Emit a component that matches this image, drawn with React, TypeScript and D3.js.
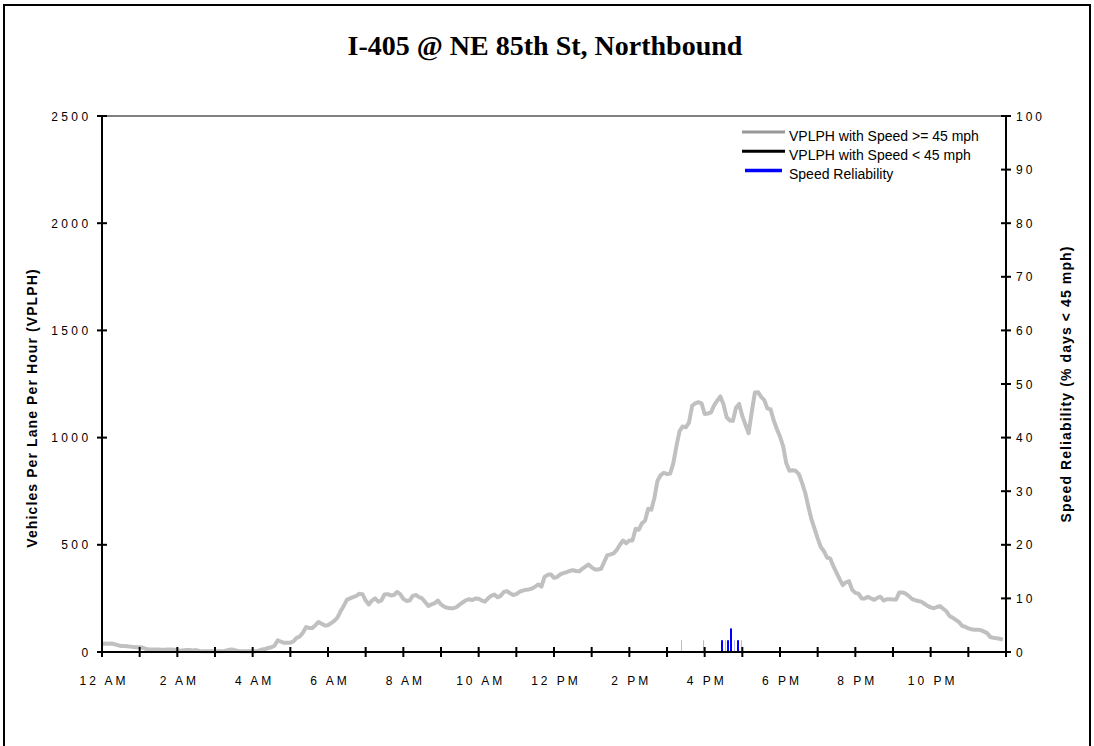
import { useEffect, useRef } from 'react';
import * as d3 from 'd3';

// 5-minute VPLPH readings, 12 AM .. 11:55 PM (12 values per hour)
const vplphFast = [
  37, 40, 38, 40, 36, 32, 28, 28, 27, 25, 23, 22,
  22, 20, 14, 12, 12, 12, 12, 11, 11, 12, 12, 11,
  8, 6, 8, 9, 9, 7, 9, 5, 3, 3, 3, 4,
  3, 3, 4, 5, 8, 12, 10, 6, 4, 4, 4, 4,
  4, 4, 6, 12, 14, 19, 22, 30, 55, 48, 43, 43,
  43, 50, 66, 72, 90, 116, 112, 112, 125, 140, 132, 124,
  125, 135, 145, 160, 190, 215, 243, 250, 256, 262, 272, 270,
  240, 222, 240, 250, 235, 240, 268, 270, 264, 266, 280, 270,
  248, 238, 240, 262, 266, 256, 250, 232, 215, 222, 228, 240,
  222, 212, 206, 204, 204, 210, 222, 232, 242, 246, 242, 250,
  248, 240, 235, 250, 262, 268, 255, 262, 280, 284, 274, 266,
  270, 280, 286, 290, 292, 296, 305, 315, 305, 350, 360, 362,
  346, 350, 362, 368, 372, 378, 382, 378, 376, 388, 398, 408,
  395, 385, 385, 388, 420, 452, 455, 460, 476, 500, 520, 508,
  520, 520, 575, 570, 600, 612, 668, 664, 720, 800, 825, 836,
  830, 832, 880, 960, 1030, 1052, 1048, 1070, 1148, 1160, 1165, 1160,
  1110, 1112, 1118, 1150, 1172, 1192, 1155, 1095, 1080, 1078, 1140, 1157,
  1100, 1060, 1020, 1120, 1210, 1212, 1190, 1175, 1135, 1132, 1080, 1040,
  1005, 960, 880, 845, 848, 845, 830, 790, 745, 680, 620, 575,
  530, 490, 470, 440, 436, 400, 370, 340, 312, 325, 330, 290,
  276, 272, 250, 250, 258, 250, 243, 252, 258, 240, 246, 246,
  245, 245, 278, 278, 272, 262, 248, 242, 238, 235, 225, 215,
  208, 204, 210, 214, 202, 190, 168, 160, 150, 140, 122, 118,
  110, 106, 104, 104, 102, 95, 88, 70, 66, 64, 62, 58,
];

// speed reliability (% of days < 45 mph) per 5-minute bin
const reliabilityBins = [184, 191, 197, 198, 199, 200, 201, 202, 203];
const reliabilityValues = [2.2, 2.2, 2.2, 2.2, 2.2, 4.4, 2.2, 2.2, 2.2];
// bins that the original rendered as faint hairlines
const faintBins = [184, 191, 198, 201, 203];

const leftTicks = [0, 500, 1000, 1500, 2000, 2500];
const rightTicks = [0, 10, 20, 30, 40, 50, 60, 70, 80, 90, 100];
const timeLabels = ['12 AM', '2 AM', '4 AM', '6 AM', '8 AM', '10 AM', '12 PM', '2 PM', '4 PM', '6 PM', '8 PM', '10 PM'];
const legendItems = ['VPLPH with Speed >= 45 mph', 'VPLPH with Speed < 45 mph', 'Speed Reliability'];
const legendColors = ['#999999', '#000000', '#0000ff'];

const App = () => {
  const svgRef = useRef<SVGSVGElement>(null!);
  const width = 1094;
  const height = 746;
  const left = 102;
  const right = 1006;
  const top = 116;
  const bottom = 652;

  useEffect(() => {
    const svg = d3.select(svgRef.current);
    svg.selectAll('*').remove();
    svg.attr('width', width).attr('height', height);

    const x = d3.scaleLinear().domain([0, 288]).range([left, right]);
    const y = d3.scaleLinear().domain([0, 2500]).range([bottom, top]);
    const y2 = d3.scaleLinear().domain([0, 100]).range([bottom, top]);

    svg.append('rect').attr('width', width).attr('height', height).attr('fill', '#fff');
    svg
      .append('rect')
      .attr('x', 4)
      .attr('y', 5)
      .attr('width', 1086)
      .attr('height', 800)
      .attr('fill', 'none')
      .attr('stroke', '#000')
      .attr('stroke-width', 2);

    svg
      .append('text')
      .attr('x', 545)
      .attr('y', 55)
      .attr('text-anchor', 'middle')
      .attr('font-family', '"Liberation Serif", "Times New Roman", serif')
      .attr('font-weight', 'bold')
      .attr('font-size', 28)
      .text('I-405 @ NE 85th St, Northbound');

    // plot top border
    svg
      .append('line')
      .attr('x1', left)
      .attr('x2', right)
      .attr('y1', top)
      .attr('y2', top)
      .attr('stroke', '#808080')
      .attr('stroke-width', 2);

    // reliability bars
    svg
      .append('g')
      .selectAll('rect')
      .data(reliabilityBins)
      .join('rect')
      .attr('x', (d) => Math.round(x(d + 0.5)) - (faintBins.includes(d) ? 0 : 1))
      .attr('width', (d) => (faintBins.includes(d) ? 1 : 2))
      .attr('y', (_, i) => y2(reliabilityValues[i]))
      .attr('height', (_, i) => bottom - y2(reliabilityValues[i]))
      .attr('fill', (d) => (faintBins.includes(d) ? '#b4b4ff' : '#0000ff'));

    const line = d3
      .line<number>()
      .x((_, i) => x(i))
      .y((d) => y(d));
    svg
      .append('path')
      .datum(vplphFast)
      .attr('d', line)
      .attr('fill', 'none')
      .attr('stroke', '#c0c0c0')
      .attr('stroke-width', 4)
      .attr('stroke-linejoin', 'round');

    const axisFont = '"Liberation Sans", Arial, sans-serif';

    // left axis
    const gl = svg.append('g');
    gl.append('line').attr('x1', left).attr('x2', left).attr('y1', top).attr('y2', bottom).attr('stroke', '#000').attr('stroke-width', 2);
    gl.selectAll('line.t')
      .data(leftTicks)
      .join('line')
      .attr('class', 't')
      .attr('x1', left - 5)
      .attr('x2', left + 5)
      .attr('y1', (d) => y(d))
      .attr('y2', (d) => y(d))
      .attr('stroke', '#000')
      .attr('stroke-width', 2);
    gl.selectAll('text')
      .data(leftTicks)
      .join('text')
      .attr('x', 91.5)
      .attr('y', (d) => y(d) + 4.5)
      .attr('text-anchor', 'end')
      .attr('font-family', axisFont)
      .attr('font-size', 12)
      .attr('letter-spacing', 3.4)
      .text((d) => d);

    // right axis
    const gr = svg.append('g');
    gr.append('line').attr('x1', right).attr('x2', right).attr('y1', top).attr('y2', bottom).attr('stroke', '#000').attr('stroke-width', 2);
    gr.selectAll('line.t')
      .data(rightTicks)
      .join('line')
      .attr('class', 't')
      .attr('x1', right - 5)
      .attr('x2', right + 5)
      .attr('y1', (d) => y2(d))
      .attr('y2', (d) => y2(d))
      .attr('stroke', '#000')
      .attr('stroke-width', 2);
    gr.selectAll('text')
      .data(rightTicks)
      .join('text')
      .attr('x', 1016)
      .attr('y', (d) => y2(d) + 4.5)
      .attr('font-family', axisFont)
      .attr('font-size', 12)
      .attr('letter-spacing', 3)
      .text((d) => d);

    // bottom axis: hourly ticks, labels every two hours
    const gb = svg.append('g');
    gb.append('line').attr('x1', left).attr('x2', right).attr('y1', bottom).attr('y2', bottom).attr('stroke', '#000').attr('stroke-width', 2);
    gb.selectAll('line.t')
      .data(d3.range(0, 25))
      .join('line')
      .attr('class', 't')
      .attr('x1', (d) => x(d * 12))
      .attr('x2', (d) => x(d * 12))
      .attr('y1', bottom - 5)
      .attr('y2', bottom + 5)
      .attr('stroke', '#000')
      .attr('stroke-width', 2);
    gb.selectAll('text')
      .data(timeLabels)
      .join('text')
      .attr('x', (_, i) => x(i * 24) + 2)
      .attr('y', 685)
      .attr('text-anchor', 'middle')
      .attr('font-family', axisFont)
      .attr('font-size', 12)
      .attr('letter-spacing', 3)
      .text((d) => d);

    // axis titles
    svg
      .append('text')
      .attr('transform', 'translate(37,408) rotate(-90)')
      .attr('text-anchor', 'middle')
      .attr('font-family', axisFont)
      .attr('font-weight', 'bold')
      .attr('font-size', 14)
      .attr('letter-spacing', 1.1)
      .text('Vehicles Per Lane Per Hour (VPLPH)');
    svg
      .append('text')
      .attr('transform', 'translate(1071,384) rotate(-90)')
      .attr('text-anchor', 'middle')
      .attr('font-family', axisFont)
      .attr('font-weight', 'bold')
      .attr('font-size', 14)
      .attr('letter-spacing', 1.1)
      .text('Speed Reliability (% days < 45 mph)');

    // legend
    const lg = svg.append('g');
    legendItems.forEach((name, i) => {
      const by = 140.5 + i * 19.3;
      lg.append('line')
        .attr('x1', i === 2 ? 745 : 742)
        .attr('x2', i === 2 ? 782 : 785)
        .attr('y1', by - 8.5)
        .attr('y2', by - 8.5)
        .attr('stroke', legendColors[i])
        .attr('stroke-width', i === 2 ? 3.5 : 3);
      lg.append('text')
        .attr('x', 789)
        .attr('y', by)
        .attr('font-family', axisFont)
        .attr('font-size', 14)
        .text(name);
    });
  }, []);

  return <svg ref={svgRef} style={{ position: 'absolute', left: 0, top: 0, display: 'block' }}></svg>;
};

export default App;
